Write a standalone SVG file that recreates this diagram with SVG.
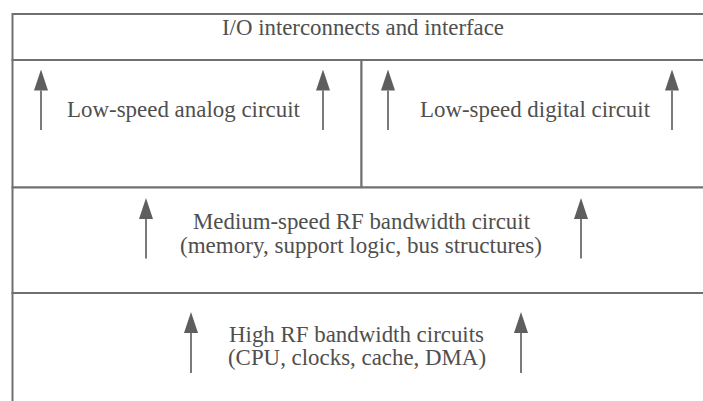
<svg xmlns="http://www.w3.org/2000/svg" width="703" height="401" viewBox="0 0 703 401">
  <style>
    .layer { fill: #ffffff; stroke: #707070; stroke-width: 2; }
    .label { font-family: "Liberation Serif", "Times New Roman", serif; font-size: 22.5px; fill: #4f4f4f; text-anchor: middle; }
    .flow { stroke: #7a7a7a; stroke-width: 2; fill: none; marker-end: url(#head); }
  </style>
  <defs>
    <marker id="head" viewBox="0 0 21 14" refX="0" refY="7" markerWidth="21" markerHeight="14" markerUnits="userSpaceOnUse" orient="auto">
      <path d="M0,0 L21,7 L0,14 Z" fill="#5e5e5e"/>
    </marker>
  </defs>

  <rect width="703" height="401" fill="#ffffff"/>

  <!-- top layer -->
  <g id="io-interface">
    <rect class="layer" x="12.5" y="14" width="700" height="46"/>
    <text class="label" x="363" y="35" textLength="282" lengthAdjust="spacingAndGlyphs">I/O interconnects and interface</text>
  </g>

  <!-- low-speed layer, split in two -->
  <g id="analog-circuit">
    <rect class="layer" x="12.5" y="60" width="349" height="127.5"/>
    <text class="label" x="183.5" y="116.5" textLength="233" lengthAdjust="spacingAndGlyphs">Low-speed analog circuit</text>
  </g>
  <g id="digital-circuit">
    <rect class="layer" x="361.5" y="60" width="350" height="127.5"/>
    <text class="label" x="535" y="116.5" textLength="230" lengthAdjust="spacingAndGlyphs">Low-speed digital circuit</text>
  </g>

  <!-- medium-speed layer -->
  <g id="medium-speed">
    <rect class="layer" x="12.5" y="187.5" width="700" height="105.5"/>
    <text class="label" x="361.5" y="228.5" textLength="337" lengthAdjust="spacingAndGlyphs">Medium-speed RF bandwidth circuit</text>
    <text class="label" x="361" y="252.5" textLength="362" lengthAdjust="spacingAndGlyphs">(memory, support logic, bus structures)</text>
  </g>

  <!-- high-bandwidth layer (open at the bottom) -->
  <g id="high-bandwidth">
    <rect class="layer" x="12.5" y="293" width="700" height="120"/>
    <text class="label" x="356.5" y="341.5" textLength="255" lengthAdjust="spacingAndGlyphs">High RF bandwidth circuits</text>
    <text class="label" x="357" y="365" textLength="258" lengthAdjust="spacingAndGlyphs">(CPU, clocks, cache, DMA)</text>
  </g>

  <!-- upward flow arrows -->
  <g id="connectors">
    <line class="flow" x1="41" y1="130" x2="41" y2="90.5"/>
    <line class="flow" x1="323" y1="130" x2="323" y2="90.5"/>
    <line class="flow" x1="388" y1="130" x2="388" y2="90.5"/>
    <line class="flow" x1="672" y1="130" x2="672" y2="90.5"/>
    <line class="flow" x1="146" y1="258.5" x2="146" y2="219"/>
    <line class="flow" x1="581" y1="258.5" x2="581" y2="219"/>
    <line class="flow" x1="191" y1="373" x2="191" y2="333"/>
    <line class="flow" x1="521" y1="373" x2="521" y2="333"/>
  </g>
</svg>
